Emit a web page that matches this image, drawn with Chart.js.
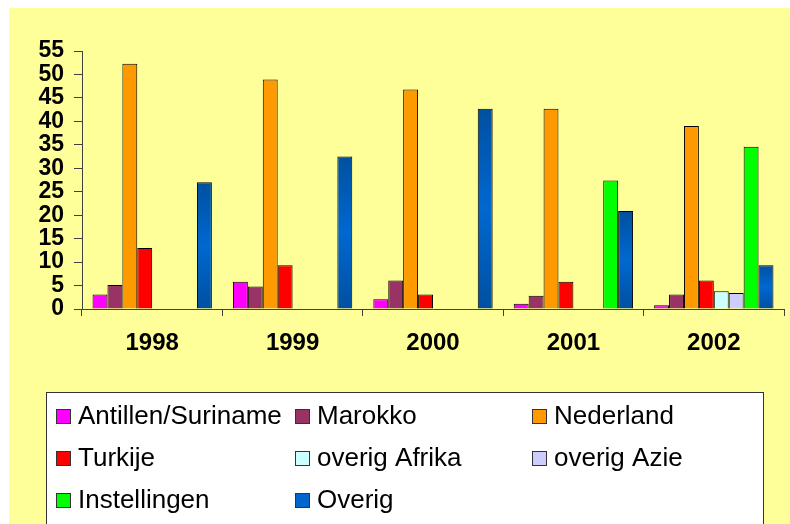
<!DOCTYPE html>
<html>
<head>
<meta charset="utf-8">
<title>Chart</title>
<script src="https://cdn.jsdelivr.net/npm/chart.js@4.4.1/dist/chart.umd.min.js"></script>
<style>
  html, body { margin: 0; padding: 0; background: #ffffff; }
  #wrap { width: 790px; height: 524px; }
</style>
</head>
<body>
<div id="wrap"><canvas id="chart" width="790" height="524"></canvas></div>
<script>
// data
const years = ["1998", "1999", "2000", "2001", "2002"];
const antillen = [3.1, 5.8, 2.1, 1.1, 0.8];
const marokko = [5.1, 4.8, 6.1, 2.8, 3.1];
const nederland = [52.3, 48.9, 46.8, 42.7, 39.0];
const turkije = [13.0, 9.3, 3.1, 5.8, 6.1];
const overigAfrika = [null, null, null, null, 3.8];
const overigAzie = [null, null, null, null, 3.4];
const instellingen = [null, null, null, 27.4, 34.6];
const overig = [27.0, 32.5, 42.7, 20.9, 9.3];

const seriesNames = ["Antillen/Suriname", "Marokko", "Nederland", "Turkije",
  "overig Afrika", "overig Azie", "Instellingen", "Overig"];
const seriesValues = [antillen, marokko, nederland, turkije,
  overigAfrika, overigAzie, instellingen, overig];
const seriesColors = ["#FF00FF", "#993366", "#FF9900", "#FF0000",
  "#CCFFFF", "#CCCCFF", "#00FF00", "#0066CC"];

// the blue bars are shaded darker at top and bottom
const blueFill = (ctx) => {
  const chart = ctx.chart;
  if (!chart.chartArea || ctx.raw == null) return "#0066CC";
  const y = chart.scales.y;
  const top = y.getPixelForValue(ctx.raw);
  const bottom = y.getPixelForValue(0);
  const g = chart.ctx.createLinearGradient(0, top, 0, bottom);
  g.addColorStop(0, "#0050A0");
  g.addColorStop(0.5, "#0068D0");
  g.addColorStop(1, "#0050A0");
  return g;
};

const datasets = seriesNames.map((name, i) => ({
  label: name,
  data: seriesValues[i],
  backgroundColor: name === "Overig" ? blueFill : seriesColors[i],
  borderColor: "#000000",
  borderWidth: 1,
  categoryPercentage: 0.85,
  barPercentage: 1.0,
}));

// yellow background with thin white strip on top/left
const background = {
  id: "background",
  beforeDraw(chart) {
    const c = chart.ctx;
    c.save();
    c.fillStyle = "#FFFF99";
    c.fillRect(9, 8, chart.width - 9, chart.height - 8);
    c.restore();
  },
};

// legend in a white box, three fixed columns
const boxLegend = {
  id: "boxLegend",
  afterDraw(chart) {
    const c = chart.ctx;
    c.save();
    c.fillStyle = "#ffffff";
    c.fillRect(46, 392, 717, 140);
    c.strokeStyle = "#333333";
    c.lineWidth = 1;
    c.strokeRect(46.5, 392.5, 717, 140);

    const colX = [56, 295, 532];
    const rowY = [416, 458, 500];
    c.font = "26px 'Liberation Sans', Arial, sans-serif";
    c.textBaseline = "middle";
    chart.data.datasets.forEach((ds, i) => {
      const x = colX[i % 3];
      const y = rowY[Math.floor(i / 3)];
      c.fillStyle = seriesColors[i];
      c.fillRect(x, y - 7, 15, 15);
      c.strokeStyle = "#333333";
      c.strokeRect(x + 0.5, y - 6.5, 14, 14);
      c.fillStyle = "#000000";
      c.fillText(ds.label, x + 22, y + 1);
    });
    c.restore();
  },
};

new Chart(document.getElementById("chart"), {
  type: "bar",
  data: { labels: years, datasets: datasets },
  plugins: [background, boxLegend],
  options: {
    responsive: false,
    animation: false,
    layout: { padding: { left: 0, top: 51, right: 6, bottom: 0 } },
    plugins: {
      legend: { display: false },
      tooltip: { enabled: false },
    },
    scales: {
      x: {
        grid: {
          display: true,
          offset: true,
          drawOnChartArea: false,
          tickLength: 7,
          color: "#404040",
        },
        border: { color: "#404040" },
        ticks: {
          color: "#000000",
          padding: 13,
          font: { family: "'Liberation Sans', Arial, sans-serif", size: 24, weight: "bold" },
        },
        afterFit(scale) { scale.height = 215; },
      },
      y: {
        min: 0,
        max: 55,
        grid: {
          drawOnChartArea: false,
          tickLength: 8,
          color: "#404040",
        },
        border: { color: "#404040" },
        ticks: {
          stepSize: 5,
          autoSkip: false,
          color: "#000000",
          padding: 10,
          font: { family: "'Liberation Sans', Arial, sans-serif", size: 23, weight: "bold", lineHeight: 1 },
        },
        afterFit(scale) { scale.width = 82; },
      },
    },
  },
});
</script>
</body>
</html>
